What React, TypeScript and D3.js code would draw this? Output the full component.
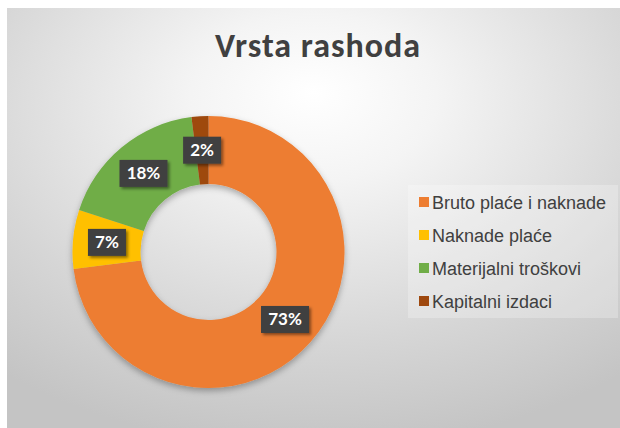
import React from "react";
import * as d3 from "d3";

const categories = ["Bruto plaće i naknade", "Naknade plaće", "Materijalni troškovi", "Kapitalni izdaci"];
const values = [73, 7, 18, 2];
const labels = ["73%", "7%", "18%", "2%"];
const colors = ["#ED7D31", "#FFC000", "#70AD47", "#9E480E"];
const title = "Vrsta rashoda";

export default function App() {
  const W = 620, H = 428;
  const cx = 208.5, cy = 252;
  const rOuter = 136, rInner = 68;
  const pie = d3.pie<number>().sort(null).value((d) => d)(values);
  const arc = d3.arc<d3.PieArcDatum<number>>().innerRadius(rInner).outerRadius(rOuter);
  const labelArc = d3.arc<d3.PieArcDatum<number>>().innerRadius(102).outerRadius(102);
  const font = "Lato, 'Open Sans', sans-serif";
  const legendY = d3.scalePoint<string>().domain(categories).range([202, 301]);

  return (
    <svg width={W} height={H} style={{ position: "absolute", left: 0, top: 0 }}>
      <defs>
        <radialGradient id="bg" cx="50%" cy="25%" r="80%" fx="50%" fy="20%">
          <stop offset="0" stopColor="#ffffff" />
          <stop offset="0.25" stopColor="#f4f4f4" />
          <stop offset="0.7" stopColor="#d6d6d6" />
          <stop offset="1" stopColor="#c4c4c4" />
        </radialGradient>
        <filter id="shadow" x="-20%" y="-20%" width="140%" height="140%">
          <feDropShadow dx="0" dy="3" stdDeviation="3" floodColor="#000" floodOpacity="0.3" />
        </filter>
        <filter id="lshadow" x="-30%" y="-30%" width="160%" height="160%">
          <feDropShadow dx="2" dy="2" stdDeviation="1.5" floodColor="#000" floodOpacity="0.45" />
        </filter>
      </defs>
      <rect x={0} y={0} width={W} height={H} fill="#ffffff" />
      <rect x={7} y={8} width={W - 7} height={H - 8} fill="url(#bg)" />
      <text x={318} y={57} textAnchor="middle" fontFamily="Carlito, Lato, 'Open Sans', sans-serif" fontWeight="bold" fontSize={34} letterSpacing={1} fill="#404040">
        {title}
      </text>
      <g transform={`translate(${cx},${cy})`} filter="url(#shadow)">
        {pie.map((d, i) => (
          <path key={i} d={arc(d) || ""} fill={colors[i]} />
        ))}
      </g>
      <g transform={`translate(${cx},${cy})`}>
        {pie.map((d, i) => {
          const [x, y] = labelArc.centroid(d);
          const w = labels[i].length * 10 + 18;
          const h = 27;
          return (
            <g key={i} transform={`translate(${x},${y})`}>
              <rect x={-w / 2} y={-h / 2} width={w} height={h} fill="#404040" filter="url(#lshadow)" />
              <text x={0} y={6} textAnchor="middle" fontFamily={font} fontWeight="bold" fontSize={17} fill="#ffffff">
                {labels[i]}
              </text>
            </g>
          );
        })}
      </g>
      <rect x={408} y={185} width={210} height={133} fill="#ffffff" opacity={0.25} />
      {categories.map((c, i) => {
        const y = legendY(c) as number;
        return (
          <g key={c}>
            <rect x={419} y={y - 5} width={10} height={10} fill={colors[i]} />
            <text x={432} y={y + 6.5} fontFamily="'Liberation Sans', Arial, sans-serif" fontSize={18} fill="#404040">
              {c}
            </text>
          </g>
        );
      })}
    </svg>
  );
}
